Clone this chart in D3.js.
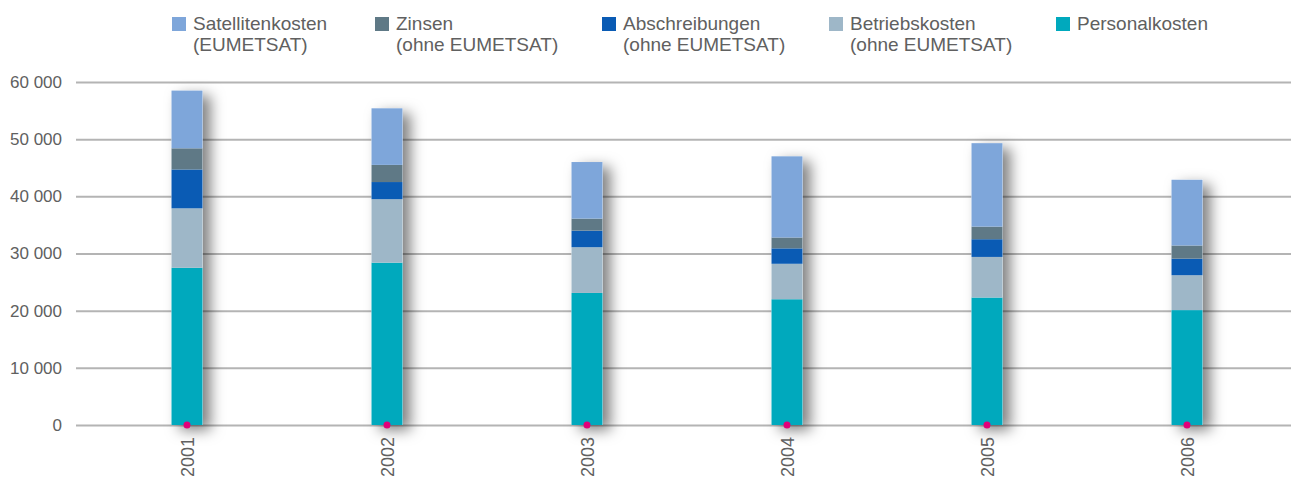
<!DOCTYPE html>
<html><head><meta charset="utf-8">
<script src="https://cdn.jsdelivr.net/npm/d3@7"></script>
<style>
body{margin:0;background:#fff;}
svg{display:block;font-family:"Liberation Sans",Arial,sans-serif;}
</style></head>
<body><svg id="c" width="1291" height="477"></svg>
<script>
const years = ["2001","2002","2003","2004","2005","2006"];
const personalkosten = [27500, 28400, 23100, 22000, 22300, 20100];
const betriebskosten = [10400, 11100, 8000, 6200, 7100, 6100];
const abschreibungen = [6800, 3000, 2900, 2700, 3100, 2900];
const zinsen = [3700, 3000, 2100, 1900, 2200, 2300];
const satellitenkosten = [10100, 9900, 9900, 14200, 14600, 11500];
const yTicks = [0, 10000, 20000, 30000, 40000, 50000, 60000];
const seriesNames = ["Personalkosten","Betriebskosten","Abschreibungen","Zinsen","Satellitenkosten"];
const seriesColors = ["#00a9bd","#9eb7c8","#0a5bb4","#5f7986","#7ea6da"];
const legendLabels = [
  ["Satellitenkosten","(EUMETSAT)"],
  ["Zinsen","(ohne EUMETSAT)"],
  ["Abschreibungen","(ohne EUMETSAT)"],
  ["Betriebskosten","(ohne EUMETSAT)"],
  ["Personalkosten"]
];
const legendColors = ["#7ea6da","#5f7986","#0a5bb4","#9eb7c8","#00a9bd"];

const svg = d3.select("#c");
const defs = svg.append("defs");
const f = defs.append("filter").attr("id","sh").attr("x","-60%").attr("y","-20%").attr("width","280%").attr("height","140%");
f.append("feDropShadow").attr("dx",8).attr("dy",5).attr("stdDeviation",7).attr("flood-color","#000").attr("flood-opacity",0.5);

const y = d3.scaleLinear().domain([0,60000]).range([425,82]);
const x = d3.scalePoint().domain(years).range([187,1187]);
const bw = 31;

// grid
const fmt = v => d3.format(",")(v).replace(/,/g," ");
const gAxis = svg.append("g").attr("transform","translate(76,0)")
  .call(d3.axisLeft(y).tickValues(yTicks).tickSize(-1215).tickPadding(14).tickFormat(fmt));
gAxis.select(".domain").remove();
gAxis.selectAll(".tick line").attr("stroke","#b4b4b4").attr("stroke-width",2);
gAxis.selectAll(".tick text").attr("fill","#606060").attr("font-size",17).attr("font-family","Liberation Sans, Arial, sans-serif");

// data stacking
const rows = years.map((yr,i)=>({year:yr, Personalkosten:personalkosten[i], Betriebskosten:betriebskosten[i], Abschreibungen:abschreibungen[i], Zinsen:zinsen[i], Satellitenkosten:satellitenkosten[i]}));
const stack = d3.stack().keys(seriesNames)(rows);

// shadows
svg.append("g").selectAll("rect").data(rows).join("rect")
  .attr("x",d=>x(d.year)-bw/2).attr("width",bw)
  .attr("y",d=>y(d3.sum(seriesNames,k=>d[k]))).attr("height",d=>y(0)-y(d3.sum(seriesNames,k=>d[k])))
  .attr("fill","#fff").attr("filter","url(#sh)");

svg.append("g").selectAll("g").data(stack).join("g")
  .attr("fill",(d,i)=>seriesColors[i])
  .selectAll("rect").data(d=>d).join("rect")
  .attr("x",d=>x(d.data.year)-bw/2).attr("width",bw)
  .attr("y",d=>y(d[1])).attr("height",d=>y(d[0])-y(d[1]));

// dots
svg.append("g").selectAll("circle").data(years).join("circle")
  .attr("cx",d=>x(d)).attr("cy",y(0)).attr("r",3.5).attr("fill","#e2007a");

// x labels
svg.append("g").selectAll("text").data(years).join("text")
  .attr("transform",d=>`translate(${x(d)+6.5},437) rotate(-90)`)
  .attr("text-anchor","end").attr("fill","#606060").attr("font-size",18).text(d=>d);

// legend
const lx = [172, 375, 602, 829, 1056];
const lg = svg.append("g").selectAll("g").data(legendLabels).join("g")
  .attr("transform",(d,i)=>`translate(${lx[i]},0)`);
lg.append("rect").attr("x",0).attr("y",17).attr("width",14).attr("height",14).attr("fill",(d,i)=>legendColors[i]);
lg.each(function(d){
  const t = d3.select(this).append("text").attr("x",21).attr("y",30).attr("fill","#606060").attr("font-size",19);
  d.forEach((line,j)=>t.append("tspan").attr("x",21).attr("dy", j===0?0:21).text(line));
});
</script></body></html>
